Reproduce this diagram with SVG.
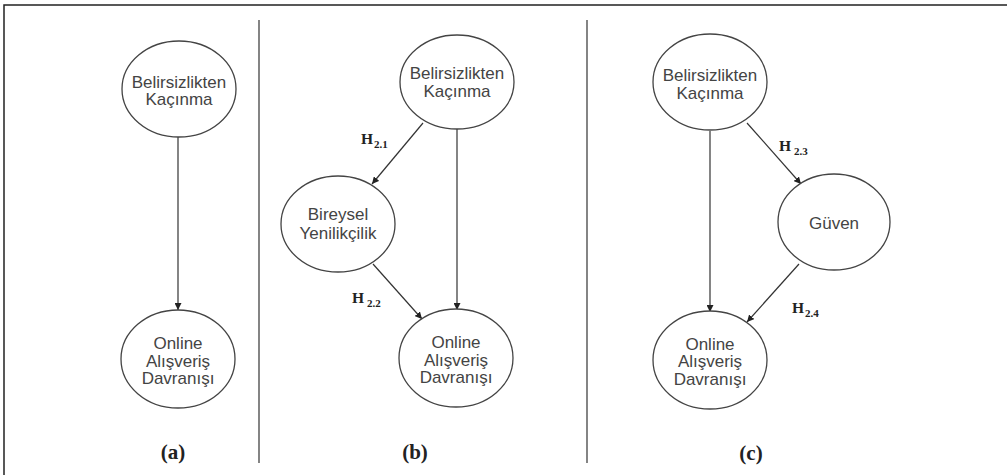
<svg xmlns="http://www.w3.org/2000/svg" width="1007" height="475" viewBox="0 0 1007 475">
  <style>
    .node ellipse { fill: #ffffff; stroke: #444444; stroke-width: 1.3; }
    .node text { font-family: "Liberation Sans", Arial, sans-serif; font-size: 17px; fill: #444444; text-anchor: middle; }
    .edge { stroke: #333333; stroke-width: 1.2; fill: none; marker-end: url(#arrow); }
    .hyp { font-family: "Liberation Serif", "Times New Roman", serif; font-weight: bold; font-size: 15.5px; fill: #222222; }
    .hyp .sub { font-size: 11px; }
    .cap { font-family: "Liberation Serif", "Times New Roman", serif; font-weight: bold; font-size: 21px; fill: #222222; text-anchor: middle; }
    .frame { stroke: #222222; stroke-width: 1.5; fill: none; }
    .divider { stroke: #333333; stroke-width: 1.2; }
  </style>
  <defs>
    <marker id="arrow" viewBox="0 0 10 10" refX="10" refY="5" markerWidth="7" markerHeight="7" markerUnits="userSpaceOnUse" orient="auto">
      <path d="M0,0 L10,5 L0,10 Z" fill="#222222"/>
    </marker>
  </defs>

  <rect width="1007" height="475" fill="#ffffff"/>

  <!-- frame -->
  <path class="frame" d="M4,475 V5 H1007"/>
  <!-- panel dividers -->
  <line class="divider" x1="259" y1="20" x2="259" y2="463"/>
  <line class="divider" x1="587" y1="20" x2="587" y2="463"/>

  <!-- connectors -->
  <g id="connectors">
    <line class="edge" x1="178" y1="137" x2="178" y2="310"/>
    <line class="edge" x1="423" y1="123" x2="372" y2="184"/>
    <line class="edge" x1="457" y1="129" x2="457" y2="310"/>
    <line class="edge" x1="373" y1="264" x2="422" y2="319"/>
    <line class="edge" x1="710" y1="131" x2="710" y2="312"/>
    <line class="edge" x1="747" y1="123" x2="801" y2="184"/>
    <line class="edge" x1="799" y1="264" x2="747" y2="322"/>
  </g>

  <!-- panel (a) -->
  <g id="a-belirsizlik" class="node">
    <ellipse cx="179" cy="89" rx="57" ry="48"/>
    <text x="179" y="88">Belirsizlikten</text>
    <text x="179" y="105">Kaçınma</text>
  </g>
  <g id="a-online" class="node">
    <ellipse cx="178" cy="359" rx="57" ry="49"/>
    <text x="178" y="349">Online</text>
    <text x="178" y="366.5">Alışveriş</text>
    <text x="178" y="384">Davranışı</text>
  </g>

  <!-- panel (b) -->
  <g id="b-belirsizlik" class="node">
    <ellipse cx="457" cy="82" rx="57" ry="47"/>
    <text x="457" y="79">Belirsizlikten</text>
    <text x="457" y="97">Kaçınma</text>
  </g>
  <g id="b-bireysel" class="node">
    <ellipse cx="338" cy="224" rx="57" ry="48"/>
    <text x="338" y="220">Bireysel</text>
    <text x="338" y="239">Yenilikçilik</text>
  </g>
  <g id="b-online" class="node">
    <ellipse cx="456" cy="358" rx="57" ry="49"/>
    <text x="456" y="348">Online</text>
    <text x="456" y="365.5">Alışveriş</text>
    <text x="456" y="383">Davranışı</text>
  </g>

  <!-- panel (c) -->
  <g id="c-belirsizlik" class="node">
    <ellipse cx="710" cy="82" rx="57" ry="48"/>
    <text x="710" y="81">Belirsizlikten</text>
    <text x="710" y="99">Kaçınma</text>
  </g>
  <g id="c-guven" class="node">
    <ellipse cx="834" cy="222" rx="56" ry="48"/>
    <text x="834" y="229">Güven</text>
  </g>
  <g id="c-online" class="node">
    <ellipse cx="710" cy="360" rx="57" ry="49"/>
    <text x="710" y="349.5">Online</text>
    <text x="710" y="367">Alışveriş</text>
    <text x="710" y="384.5">Davranışı</text>
  </g>

  <!-- hypothesis labels -->
  <text class="hyp" x="361" y="144">H<tspan class="sub" dx="1" dy="4">2.1</tspan></text>
  <text class="hyp" x="352" y="303">H<tspan class="sub" dx="3" dy="4">2.2</tspan></text>
  <text class="hyp" x="779" y="151">H<tspan class="sub" dx="3" dy="4">2.3</tspan></text>
  <text class="hyp" x="792" y="313">H<tspan class="sub" dx="1" dy="4">2.4</tspan></text>

  <!-- panel captions -->
  <text class="cap" x="173" y="459">(a)</text>
  <text class="cap" x="415" y="459">(b)</text>
  <text class="cap" x="751" y="460">(c)</text>
</svg>
